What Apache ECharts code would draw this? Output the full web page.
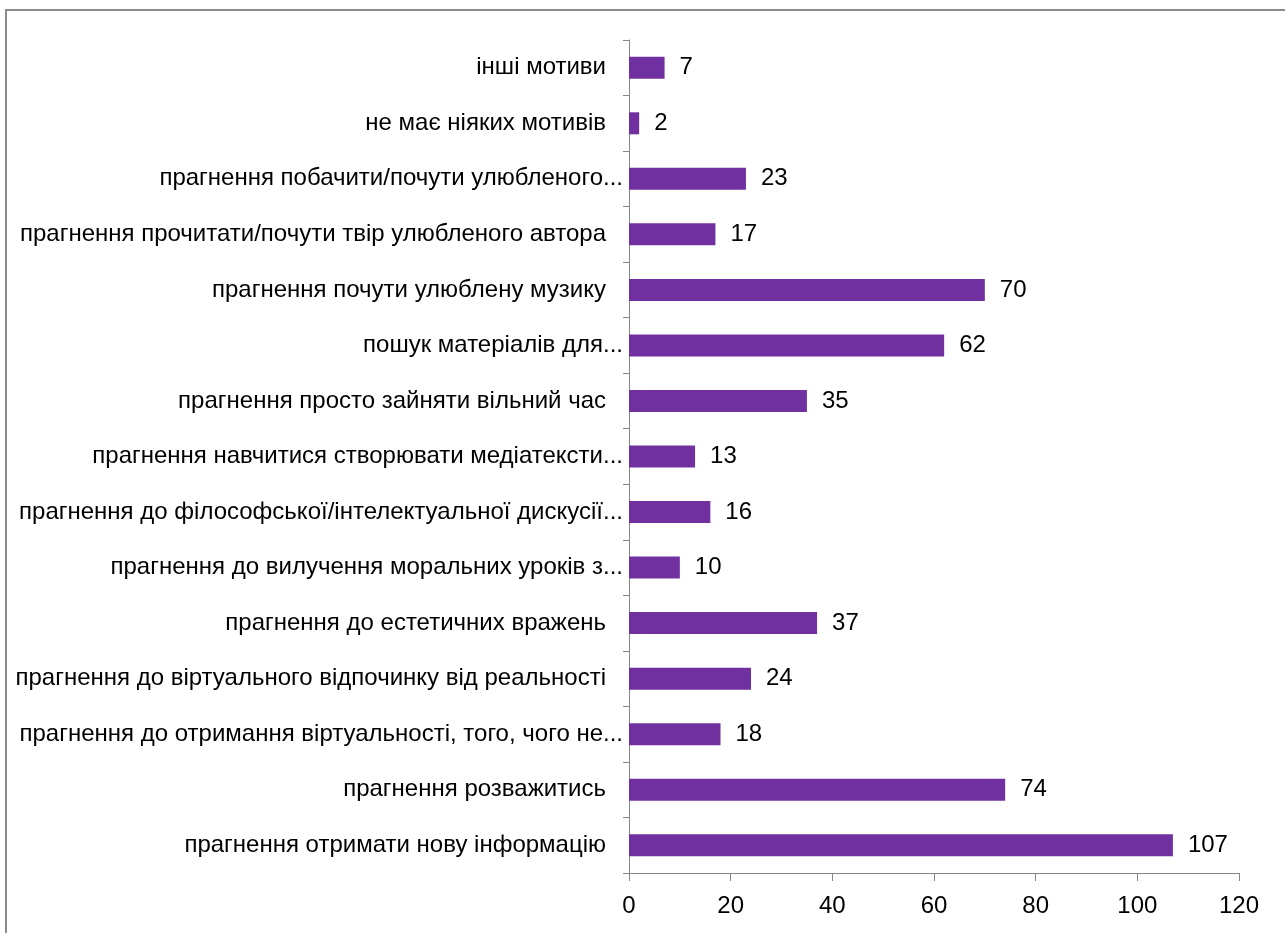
<!DOCTYPE html>
<html><head><meta charset="utf-8">
<script src="https://cdn.jsdelivr.net/npm/echarts@6/dist/echarts.min.js"></script>
<style>
html,body{margin:0;padding:0;background:#fff;}
#frame{position:absolute;left:5px;top:9px;width:1400px;height:1000px;border:2px solid #8c8c8c;box-sizing:border-box;}
#chart{position:absolute;left:0;top:0;width:1285px;height:933px;}
</style></head>
<body>
<div id="frame"></div>
<div id="chart"></div>
<script>
const categories = [
  "інші мотиви",
  "не має ніяких мотивів",
  "прагнення побачити/почути улюбленого...",
  "прагнення прочитати/почути твір улюбленого автора",
  "прагнення почути улюблену музику",
  "пошук матеріалів для...",
  "прагнення просто зайняти вільний час",
  "прагнення навчитися створювати медіатексти...",
  "прагнення до філософської/інтелектуальної дискусії...",
  "прагнення до вилучення моральних уроків з...",
  "прагнення до естетичних вражень",
  "прагнення до віртуального відпочинку від реальності",
  "прагнення до отримання віртуальності, того, чого не...",
  "прагнення розважитись",
  "прагнення отримати нову інформацію"
];
const values = [7, 2, 23, 17, 70, 62, 35, 13, 16, 10, 37, 24, 18, 74, 107];
const xTicks = { min: 0, max: 120, interval: 20 };

const FONT = '"Liberation Sans Narrow", "Liberation Sans", sans-serif';
const chart = echarts.init(document.getElementById('chart'));
chart.setOption({
  animation: false,
  grid: { left: 629, right: 46, top: 40, bottom: 60, containLabel: false },
  xAxis: {
    type: 'value', min: xTicks.min, max: xTicks.max, interval: xTicks.interval,
    axisLine: { show: true, lineStyle: { color: '#868686', width: 1 } },
    axisTick: { show: true, length: 8, lineStyle: { color: '#868686' } },
    splitLine: { show: false },
    axisLabel: { color: '#000', fontFamily: FONT, fontSize: 24, margin: 21 }
  },
  yAxis: {
    type: 'category', data: categories, inverse: true,
    axisLine: { show: true, lineStyle: { color: '#868686', width: 1 } },
    axisTick: { show: true, length: 6, lineStyle: { color: '#868686' } },
    axisLabel: {
      color: '#000', fontFamily: FONT, fontSize: 24, margin: 6,
      formatter: function (v) { return v.endsWith('...') ? '{t|' + v + '}' : '{n|' + v + '}'; },
      rich: {
        t: { fontFamily: FONT, fontSize: 24, color: '#000' },
        n: { fontFamily: FONT, fontSize: 24, color: '#000', padding: [0, 17, 0, 0] }
      }
    }
  },
  series: [{
    type: 'bar', data: values, barWidth: 22,
    itemStyle: { color: '#7030A0' },
    label: { show: true, position: 'right', distance: 15, color: '#000', fontFamily: FONT, fontSize: 24 }
  }]
});
</script>
</body></html>
